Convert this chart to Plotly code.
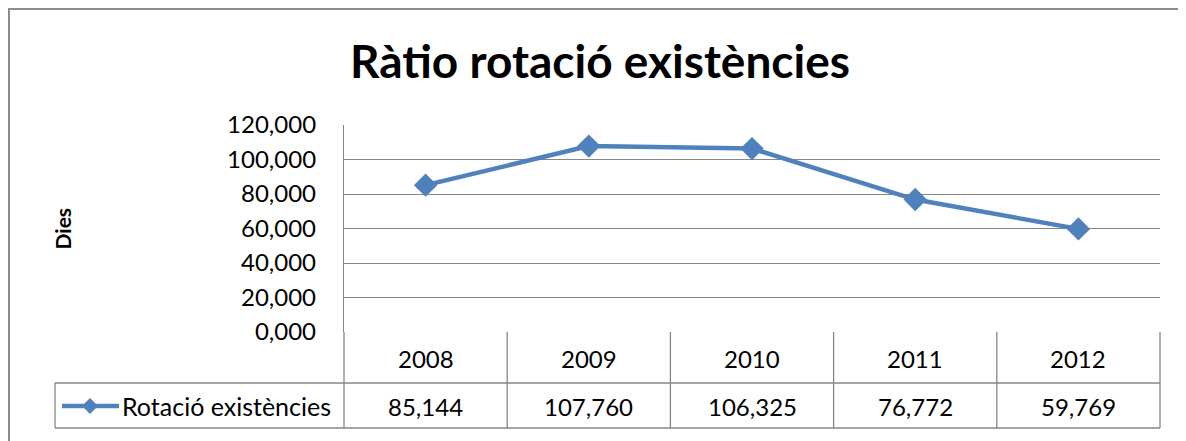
import plotly.graph_objects as go

years = ["2008", "2009", "2010", "2011", "2012"]
rotacio = [85.144, 107.760, 106.325, 76.772, 59.769]
series_name = "Rotació existències"
y_ticks = [0, 20, 40, 60, 80, 100, 120]

OFF = 8  # page body margin
W, H = 1186, 441
L, R, T, B = 344 - OFF, 1160 - OFF, 125 - OFF, 332 - OFF  # plot area in figure pixels
BLUE = "#4F81BD"
GRID = "#868686"
FONT = "Lato"


# screen pixel -> paper coordinates
def px2x(px):
    return (px - OFF - L) / (R - L)


def px2y(py):
    return (B - (py - OFF)) / (B - T)


def fmt(v):
    return f"{v:.3f}".replace(".", ",")


fig = go.Figure()
fig.add_trace(
    go.Scatter(
        x=years,
        y=rotacio,
        mode="lines+markers",
        line=dict(color=BLUE, width=4.5),
        marker=dict(symbol="diamond", size=18, color=BLUE),
        name=series_name,
        showlegend=False,
    )
)

shapes = []
line = dict(color=GRID, width=1.3)
row1, row2 = 383, 428
# table columns
for k in range(len(years) + 1):
    xp = k / len(years)
    shapes.append(dict(type="line", xref="paper", yref="paper", x0=xp, x1=xp,
                       y0=0, y1=px2y(row2), line=line))
for ry in (row1, row2):
    shapes.append(dict(type="line", xref="paper", yref="paper", x0=px2x(55), x1=1,
                       y0=px2y(ry), y1=px2y(ry), line=line))
shapes.append(dict(type="line", xref="paper", yref="paper", x0=px2x(55), x1=px2x(55),
                   y0=px2y(row1), y1=px2y(row2), line=line))
# legend key
ky = px2y(406)
shapes.append(dict(type="line", xref="paper", yref="paper", x0=px2x(62), x1=px2x(119),
                   y0=ky, y1=ky, line=dict(color=BLUE, width=4.5)))
cx, dx, dy = px2x(90), 8 / (R - L), 8 / (B - T)
shapes.append(dict(type="path", xref="paper", yref="paper",
                   path=f"M {cx-dx},{ky} L {cx},{ky+dy} L {cx+dx},{ky} L {cx},{ky-dy} Z",
                   fillcolor=BLUE, line=dict(color=BLUE, width=0)))
# outer chart frame
shapes.append(dict(type="rect", xref="paper", yref="paper", x0=px2x(9), x1=px2x(1230),
                   y0=px2y(480), y1=px2y(9), line=dict(color="#8c8c8c", width=2)))

cell_font = dict(size=24, color="#000")
annotations = []
for i, (yr, v) in enumerate(zip(years, rotacio)):
    annotations.append(dict(x=i, xref="x", y=px2y(358), yref="paper", text=yr,
                            xanchor="center", yanchor="middle", showarrow=False, font=cell_font))
    annotations.append(dict(x=i, xref="x", y=ky, yref="paper", text=fmt(v),
                            xanchor="center", yanchor="middle", showarrow=False, font=cell_font))
annotations.append(dict(x=px2x(120), xref="paper", y=ky, yref="paper", text=series_name,
                        xanchor="left", yanchor="middle", showarrow=False,
                        font=dict(size=25, color="#000")))
annotations.append(dict(x=px2x(62), xref="paper", y=0.5, yref="paper", text="<b>Dies</b>",
                        textangle=-90, xanchor="center", yanchor="middle", showarrow=False,
                        font=dict(size=21, color="#000")))

fig.update_layout(
    width=W,
    height=H,
    margin=dict(l=L, r=W - R, t=T, b=H - B, pad=0),
    paper_bgcolor="white",
    plot_bgcolor="white",
    font=dict(family=FONT, color="#000"),
    separators=",.",
    title=dict(text="<b>Ràtio rotació existències</b>", x=(600 - OFF) / W, xanchor="center",
               y=1 - (62 - OFF) / H, yanchor="middle", font=dict(size=46, color="#000")),
    xaxis=dict(type="category", range=[-0.5, 4.5], showticklabels=False, showgrid=False,
               zeroline=False, ticks=""),
    yaxis=dict(range=[0, 120], tickvals=y_ticks, ticktext=[fmt(t) for t in y_ticks],
               showgrid=True, gridcolor=GRID, gridwidth=1.3, zeroline=False,
               showline=True, linecolor=GRID, linewidth=1.3, ticks="outside",
               ticklen=22, tickcolor="rgba(0,0,0,0)", tickfont=dict(size=24)),
    shapes=shapes,
    annotations=annotations,
)

fig.write_html("out.html")
